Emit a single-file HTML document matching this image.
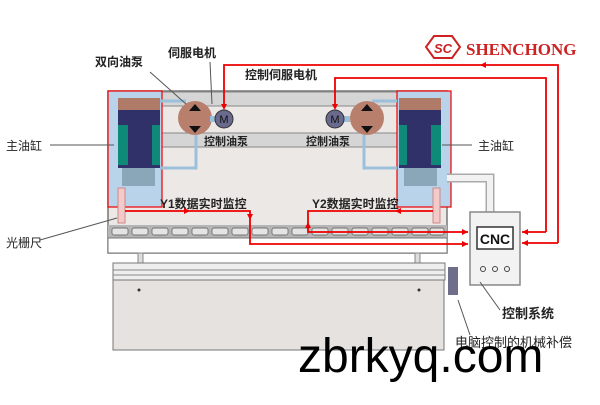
<!DOCTYPE html>
<html><head><meta charset="utf-8"><style>
body{margin:0;background:#fff}
svg text{font-family:"Liberation Sans","Noto Sans CJK SC",sans-serif}
</style></head><body>
<svg width="600" height="400" xmlns="http://www.w3.org/2000/svg">
<!-- upper frame -->
<rect x="108" y="91" width="339" height="162" fill="#ece8e5" stroke="#777" stroke-width="1.5"/>
<rect x="160" y="92" width="237" height="14" fill="#d5d5d5" stroke="#888"/>
<rect x="160" y="133" width="237" height="14" fill="#d5d5d5" stroke="#888"/>
<!-- left cylinder -->
<rect x="108" y="91" width="54" height="116" fill="#b9d3ea" stroke="#e00" stroke-width="1.2"/>
<rect x="118" y="98" width="42" height="12" fill="#b07a68"/>
<rect x="118" y="110" width="42" height="58" fill="#2f3168"/>
<rect x="118" y="125" width="10" height="40" fill="#0f8a78"/>
<rect x="152" y="125" width="8" height="40" fill="#0f8a78"/>
<rect x="122" y="168" width="33" height="18" fill="#8aa7b9"/>
<rect x="118" y="188" width="7" height="35" fill="#f3c9c9" stroke="#c88"/>
<!-- right cylinder -->
<rect x="397" y="91" width="54" height="116" fill="#b9d3ea" stroke="#e00" stroke-width="1.2"/>
<rect x="399" y="98" width="42" height="12" fill="#b07a68"/>
<rect x="399" y="110" width="42" height="58" fill="#2f3168"/>
<rect x="431" y="125" width="10" height="40" fill="#0f8a78"/>
<rect x="399" y="125" width="8" height="40" fill="#0f8a78"/>
<rect x="404" y="168" width="33" height="18" fill="#8aa7b9"/>
<rect x="433" y="188" width="7" height="35" fill="#f3c9c9" stroke="#c88"/>
<!-- pipes -->
<path d="M160,101H186M160,168H196V135M397,101H372M397,168H364V135" stroke="#9bc0dc" stroke-width="3" fill="none"/>
<!-- pumps -->
<circle cx="195" cy="118" r="17" fill="#b8806c"/>
<path d="M189,111L195,104L201,111zM189,126L195,133L201,126z" fill="#111"/>
<rect x="210" y="116" width="6" height="6" fill="#9bc0dc"/>
<circle cx="224" cy="119" r="9" fill="#6a6a8e" stroke="#333"/><text x="224" y="123" font-size="11" text-anchor="middle" fill="#111">M</text>
<circle cx="367" cy="118" r="17" fill="#b8806c"/>
<path d="M361,111L367,104L373,111zM361,126L367,133L373,126z" fill="#111"/>
<rect x="344" y="116" width="6" height="6" fill="#9bc0dc"/>
<circle cx="335" cy="119" r="9" fill="#6a6a8e" stroke="#333"/><text x="335" y="123" font-size="11" text-anchor="middle" fill="#111">M</text>
<text x="204" y="145" font-size="11" font-weight="bold" fill="#222">控制油泵</text>
<text x="306" y="145" font-size="11" font-weight="bold" fill="#222">控制油泵</text>
<!-- teeth -->
<rect x="108" y="225" width="339" height="13" fill="#b5b5b5"/>
<g fill="#e4e4e4" stroke="#555" stroke-width="0.7">
<rect x="112" y="228" width="16" height="7" rx="2"/><rect x="132" y="228" width="16" height="7" rx="2"/><rect x="152" y="228" width="16" height="7" rx="2"/><rect x="172" y="228" width="16" height="7" rx="2"/><rect x="192" y="228" width="16" height="7" rx="2"/><rect x="212" y="228" width="16" height="7" rx="2"/><rect x="232" y="228" width="16" height="7" rx="2"/><rect x="252" y="228" width="16" height="7" rx="2"/><rect x="272" y="228" width="16" height="7" rx="2"/><rect x="292" y="228" width="16" height="7" rx="2"/><rect x="312" y="228" width="16" height="7" rx="2"/><rect x="332" y="228" width="16" height="7" rx="2"/><rect x="352" y="228" width="16" height="7" rx="2"/><rect x="372" y="228" width="16" height="7" rx="2"/><rect x="392" y="228" width="16" height="7" rx="2"/><rect x="412" y="228" width="16" height="7" rx="2"/><rect x="430" y="228" width="14" height="7" rx="2"/>
</g>
<rect x="108" y="238" width="339" height="15" fill="#fff" stroke="#777"/>
<!-- lower -->
<rect x="138" y="253" width="5" height="10" fill="#ddd" stroke="#888"/><rect x="415" y="253" width="5" height="10" fill="#ddd" stroke="#888"/>
<rect x="113" y="263" width="332" height="17" fill="#eee" stroke="#777"/>
<line x1="113" y1="270" x2="445" y2="270" stroke="#888"/><line x1="113" y1="275" x2="445" y2="275" stroke="#888"/>
<rect x="113" y="280" width="331" height="70" fill="#e6e2df" stroke="#777"/>
<circle cx="139" cy="290" r="1.5" fill="#333"/><circle cx="419" cy="290" r="1.5" fill="#333"/>
<rect x="448" y="267" width="10" height="28" fill="#6e6e8a"/>
<!-- pipe to cnc -->
<path d="M447,178H490V212" stroke="#aaa" stroke-width="9" fill="none"/>
<path d="M447,178H490V212" stroke="#f2f2f2" stroke-width="6" fill="none"/>
<!-- CNC -->
<rect x="470" y="212" width="50" height="73" fill="#f2f2f2" stroke="#888" stroke-width="1.5"/>
<rect x="477" y="227" width="36" height="22" fill="#fff" stroke="#333" stroke-width="1.5"/>
<text x="495" y="244" font-size="14" font-weight="bold" text-anchor="middle" fill="#111">CNC</text>
<circle cx="483" cy="269" r="2.5" fill="none" stroke="#444"/><circle cx="495" cy="269" r="2.5" fill="none" stroke="#444"/><circle cx="507" cy="269" r="2.5" fill="none" stroke="#444"/>
<!-- red lines -->
<g stroke="#e00" stroke-width="1.8" fill="none">
<path d="M558,243V65H224V108"/>
<path d="M546,232V78H335V108"/>
<path d="M558,243H522M546,232H522"/>
<path d="M125,211H250V244H468"/>
<path d="M433,211H308V232H468"/>
</g>
<g fill="#e00">
<path d="M224,110l-3,-6h6z"/><path d="M335,110l-3,-6h6z"/><path d="M468,244l-6,-3v6z"/><path d="M468,232l-6,-3v6z"/>
<path d="M522,243l6,-3v6z"/><path d="M522,232l6,-3v6z"/><path d="M190,211l-6,-3v6z"/><path d="M250,220l-3,-6h6z"/>
<path d="M395,211l6,-3v6z"/><path d="M308,222l-3,6h6z"/><path d="M480,65l6,-3v6z"/>
</g>
<!-- labels -->
<g font-size="12" font-weight="bold" fill="#222">
<text x="95" y="66">双向油泵</text><text x="168" y="57">伺服电机</text><text x="245" y="79">控制伺服电机</text>
<text x="160" y="208">Y1数据实时监控</text><text x="312" y="208">Y2数据实时监控</text>
<text x="6" y="150" font-weight="normal">主油缸</text><text x="478" y="150" font-weight="normal">主油缸</text>
<text x="6" y="247" font-weight="normal">光栅尺</text>
<text x="502" y="318" font-size="13">控制系统</text>
<text x="455" y="347" font-weight="normal" font-size="13">电脑控制的机械补偿</text>
</g>
<g stroke="#555" fill="none"><path d="M150,72L186,104"/><path d="M210,62L212,104"/><path d="M50,145H114"/><path d="M472,145H442"/><path d="M40,240L117,218"/><path d="M500,310L480,282"/><path d="M470,335L458,300"/></g>
<!-- logo -->
<polygon points="434,36 452,36 460,47 452,58 434,58 426,47" fill="none" stroke="#c22" stroke-width="2"/>
<text x="443" y="53" font-size="13" font-style="italic" font-weight="bold" text-anchor="middle" fill="#c22" font-family="Liberation Serif,serif">SC</text>
<text x="466" y="55" font-size="17" font-weight="bold" fill="#c22" style="font-family:'Liberation Serif',serif">SHENCHONG</text>
<!-- watermark -->
<text x="298" y="372" font-size="48" fill="#000">zbrkyq.com</text>
</svg>
</body></html>
